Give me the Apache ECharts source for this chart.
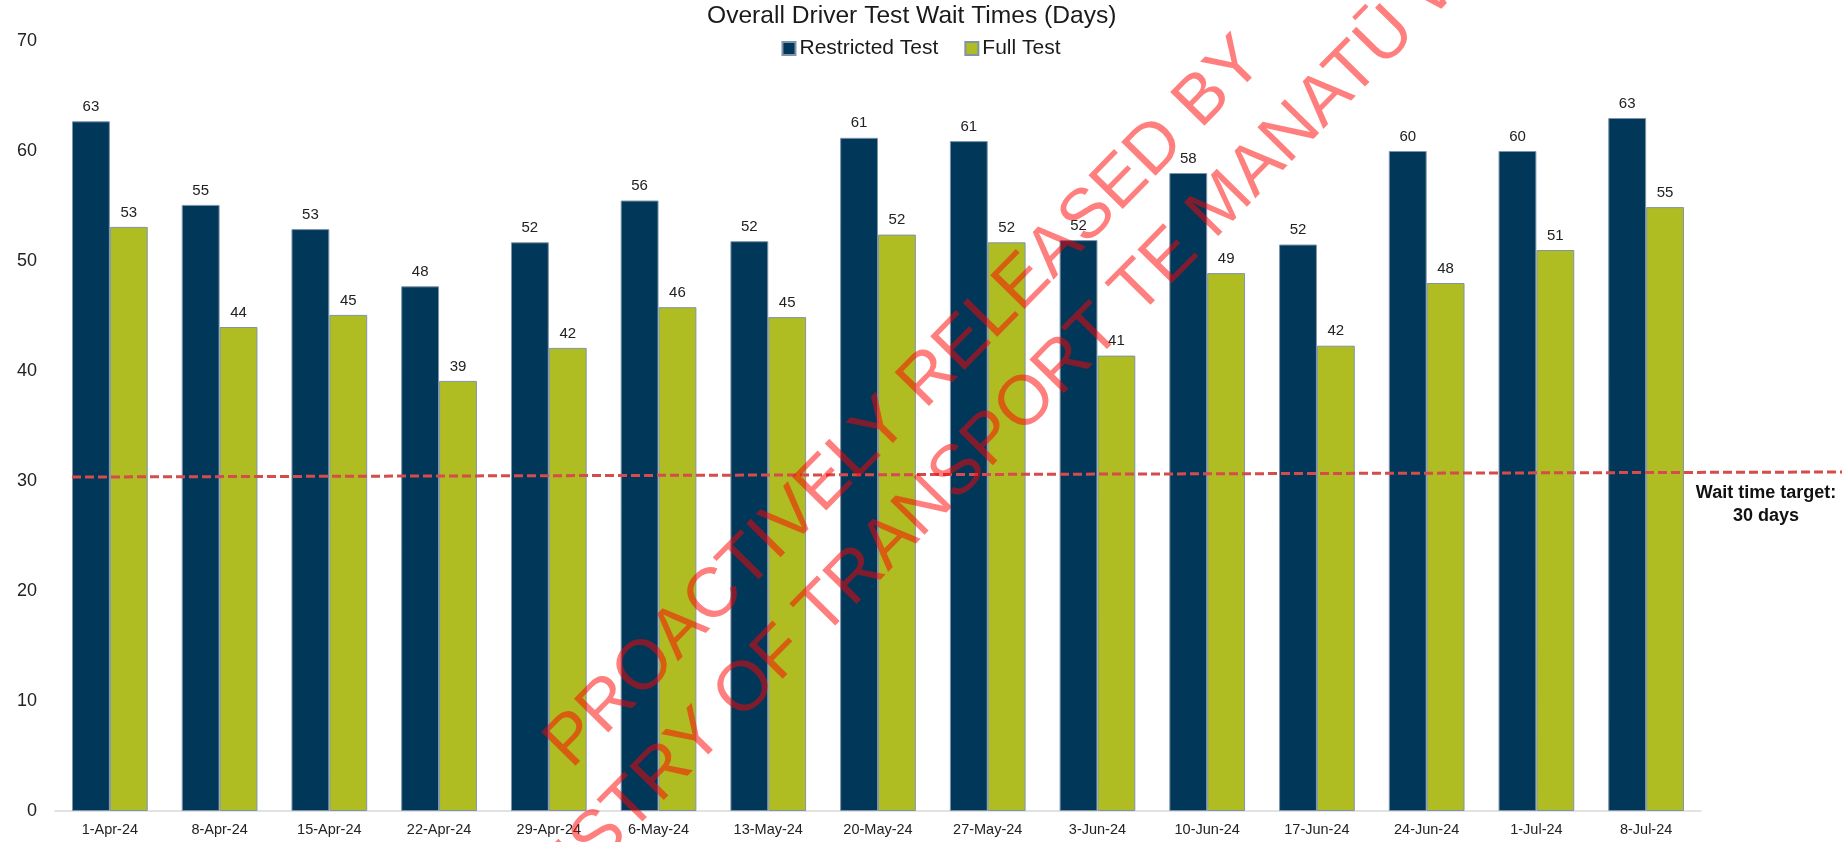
<!DOCTYPE html>
<html>
<head>
<meta charset="utf-8">
<script src="https://cdn.jsdelivr.net/npm/echarts@6/dist/echarts.min.js"></script>
<style>
html,body{margin:0;padding:0;background:#fff;}
#chart{width:1842px;height:842px;}
</style>
</head>
<body>
<div id="chart"></div>
<script>
const categories = ['1-Apr-24','8-Apr-24','15-Apr-24','22-Apr-24','29-Apr-24','6-May-24','13-May-24','20-May-24','27-May-24','3-Jun-24','10-Jun-24','17-Jun-24','24-Jun-24','1-Jul-24','8-Jul-24'];
const restrictedTest = [62.7, 55.1, 52.9, 47.7, 51.7, 55.5, 51.8, 61.2, 60.9, 51.9, 58.0, 51.5, 60.0, 60.0, 63.0];
const fullTest = [53.1, 44.0, 45.1, 39.1, 42.1, 45.8, 44.9, 52.4, 51.7, 41.4, 48.9, 42.3, 48.0, 51.0, 54.9];
const targetLine = [[0, 30.36], [1, 30.82]];
const yTicks = {min: 0, max: 70, interval: 10};
const titleText = 'Overall Driver Test Wait Times (Days)';
const targetText = 'Wait time target:\n30 days';
const watermark1 = 'PROACTIVELY RELEASED BY';
const watermark2 = 'MINISTRY OF TRANSPORT TE MANATŪ WAKA';

const FONT = '"Liberation Sans", Arial, sans-serif';
const chart = echarts.init(document.getElementById('chart'));
const labelCfg = {
  show: true, position: 'top', distance: 7,
  fontSize: 15, color: '#222', fontFamily: FONT,
  formatter: p => Math.round(p.value)
};
chart.setOption({
  animation: false,
  backgroundColor: '#fff',
  title: {
    text: titleText, left: 707, top: 4, padding: 0,
    textStyle: {fontSize: 24.6, fontWeight: 'normal', color: '#1a1a1a', fontFamily: FONT}
  },
  legend: {
    left: 'center', top: 38, padding: 0,
    itemWidth: 13, itemHeight: 13, itemGap: 26,
    icon: 'rect',
    textStyle: {fontSize: 21, color: '#1a1a1a', fontFamily: FONT, padding: [0,0,0,-1]},
    data: ['Restricted Test', 'Full Test']
  },
  grid: [
    {left: 55, right: 141, top: 41, bottom: 31, containLabel: false},
    {left: 72, right: 0, top: 41, bottom: 31, containLabel: false}
  ],
  xAxis: [
    {
      type: 'category', data: categories, gridIndex: 0,
      axisLine: {show: true, lineStyle: {color: '#d9d9d9', width: 1.5}},
      axisTick: {show: false},
      axisLabel: {fontSize: 14.5, color: '#222', fontFamily: FONT, margin: 11, interval: 0}
    },
    {type: 'value', gridIndex: 1, min: 0, max: 1, show: false}
  ],
  yAxis: [
    {
      type: 'value', gridIndex: 0, min: yTicks.min, max: yTicks.max, interval: yTicks.interval,
      axisLine: {show: false}, axisTick: {show: false}, splitLine: {show: false},
      axisLabel: {fontSize: 18, color: '#222', fontFamily: FONT, margin: 18}
    },
    {type: 'value', gridIndex: 1, min: yTicks.min, max: yTicks.max, show: false}
  ],
  series: [
    {
      name: 'Restricted Test', type: 'bar', data: restrictedTest,
      xAxisIndex: 0, yAxisIndex: 0,
      barGap: '0%', barCategoryGap: '31%',
      itemStyle: {color: '#01385a', borderColor: '#7f94ab', borderWidth: 1},
      label: labelCfg
    },
    {
      name: 'Full Test', type: 'bar', data: fullTest,
      xAxisIndex: 0, yAxisIndex: 0,
      barGap: '0%', barCategoryGap: '31%',
      itemStyle: {color: '#afbc22', borderColor: '#7f94ab', borderWidth: 1},
      label: labelCfg
    },
    {
      name: 'Target', type: 'line', data: targetLine,
      xAxisIndex: 1, yAxisIndex: 1,
      symbol: 'none', silent: true, z: 5,
      lineStyle: {color: '#d64b4b', width: 3, type: [9, 4]}
    }
  ],
  graphic: [
    {
      type: 'text', x: 1766, y: 505, z: 10,
      style: {text: targetText, align: 'center', verticalAlign: 'middle',
        font: 'bold 18px ' + FONT, fill: '#111', lineHeight: 23}
    },
    {
      type: 'text', x: 905, y: 403, rotation: 0.794, z: 100, silent: true,
      style: {text: watermark1, align: 'center', verticalAlign: 'middle',
        font: '70px ' + FONT, fill: 'rgba(255,0,0,0.5)'}
    },
    {
      type: 'text', x: 1020, y: 410, rotation: 0.794, z: 100, silent: true,
      style: {text: watermark2, align: 'center', verticalAlign: 'middle',
        font: '70px ' + FONT, fill: 'rgba(255,0,0,0.5)'}
    }
  ]
});
</script>
</body>
</html>
